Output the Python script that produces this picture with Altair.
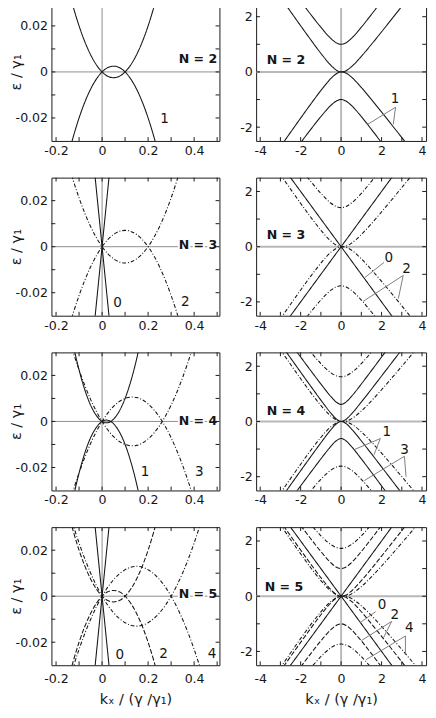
import altair as alt
import pandas as pd

# ================= DATA =================
# ---- left column: low-energy zoom, x = kx/(gamma/gamma1), y = eps/gamma1 ----
KL_LAM1 = [-0.22, -0.2, -0.15, -0.1, -0.05, 0, 0.025, 0.05, 0.075, 0.1, 0.15, 0.2, 0.25, 0.3]
EL_LAM1_A = [0.0704, 0.06, 0.0375, 0.02, 0.0075, 0, -0.0019, -0.0025, -0.0019, 0, 0.0075, 0.02, 0.0375, 0.06]
EL_LAM1_B = [-0.0704, -0.06, -0.0375, -0.02, -0.0075, 0, 0.0019, 0.0025, 0.0019, 0, -0.0075, -0.02, -0.0375, -0.06]

KL_LAM141 = [-0.2, -0.15, -0.1, -0.05, 0, 0.05, 0.1, 0.15, 0.2, 0.25, 0.3, 0.35, 0.4]
EL_LAM141_A = [0.0566, 0.0371, 0.0212, 0.0088, 0, -0.0053, -0.0071, -0.0053, 0, 0.0088, 0.0212, 0.0371, 0.0566]
EL_LAM141_B = [-0.0566, -0.0371, -0.0212, -0.0088, 0, 0.0053, 0.0071, 0.0053, 0, -0.0088, -0.0212, -0.0371, -0.0566]

KL_LAM162 = [-0.2, -0.15, -0.1, -0.05, 0, 0.05, 0.1, 0.131, 0.15, 0.2, 0.25, 0.3, 0.35, 0.4, 0.45]
EL_LAM162_A = [0.0571, 0.0382, 0.0224, 0.0096, 0, -0.0066, -0.0100, -0.0106, -0.0104, -0.0076, -0.0018, 0.0071, 0.0191, 0.0342, 0.0523]
EL_LAM162_B = [-0.0571, -0.0382, -0.0224, -0.0096, 0, 0.0066, 0.0100, 0.0106, 0.0104, 0.0076, 0.0018, -0.0071, -0.0191, -0.0342, -0.0523]

KL_LAM062 = [-0.2, -0.15, -0.1, -0.05, -0.025, 0, 0.019, 0.038, 0.05, 0.1, 0.15, 0.2]
EL_LAM062_A = [0.0771, 0.0457, 0.0224, 0.0071, 0.0026, 0, -0.0006, 0, 0.0010, 0.0100, 0.0271, 0.0524]
EL_LAM062_B = [-0.0771, -0.0457, -0.0224, -0.0071, -0.0026, 0, 0.0006, 0, -0.0010, -0.0100, -0.0271, -0.0524]

KL_LAM173 = [-0.2, -0.15, -0.1, -0.05, 0, 0.05, 0.1, 0.15, 0.2, 0.25, 0.3, 0.35, 0.4, 0.45, 0.5]
EL_LAM173_A = [0.0577, 0.0390, 0.0231, 0.0101, 0, -0.0072, -0.0115, -0.0130, -0.0115, -0.0072, 0, 0.0101, 0.0231, 0.0390, 0.0577]
EL_LAM173_B = [-0.0577, -0.0390, -0.0231, -0.0101, 0, 0.0072, 0.0115, 0.0130, 0.0115, 0.0072, 0, -0.0101, -0.0231, -0.0390, -0.0577]

KL_LIN = [-0.1, 0.1]
EL_LIN_A = [-0.1, 0.1]
EL_LIN_B = [0.1, -0.1]

# ---- right column: wide range ----
KR = [-4, -3.5, -3, -2.5, -2, -1.5, -1, -0.5, -0.25, 0, 0.25, 0.5, 1, 1.5, 2, 2.5, 3, 3.5, 4]
ER_LOW1_C = [3.751, 3.228, 2.706, 2.188, 1.672, 1.164, 0.673, 0.235, 0.073, 0, 0.045, 0.180, 0.563, 0.999, 1.452, 1.913, 2.376, 2.844, 3.311]
ER_LOW1_V = [-3.751, -3.228, -2.706, -2.188, -1.672, -1.164, -0.673, -0.235, -0.073, 0, -0.045, -0.180, -0.563, -0.999, -1.452, -1.913, -2.376, -2.844, -3.311]
ER_LOW141_C = [3.667, 3.137, 2.609, 2.086, 1.570, 1.068, 0.596, 0.198, 0.063, 0, 0.024, 0.120, 0.440, 0.834, 1.258, 1.696, 2.141, 2.591, 3.043]
ER_LOW141_V = [-3.667, -3.137, -2.609, -2.086, -1.570, -1.068, -0.596, -0.198, -0.063, 0, -0.024, -0.120, -0.440, -0.834, -1.258, -1.696, -2.141, -2.591, -3.043]
ER_LOW162_C = [3.672, 3.133, 2.598, 2.069, 1.548, 1.045, 0.577, 0.192, 0.063, 0, 0.013, 0.092, 0.377, 0.745, 1.148, 1.569, 1.998, 2.433, 2.872]
ER_LOW162_V = [-3.672, -3.133, -2.598, -2.069, -1.548, -1.045, -0.577, -0.192, -0.063, 0, -0.013, -0.092, -0.377, -0.745, -1.148, -1.569, -1.998, -2.433, -2.872]
ER_LOW062_C = [3.843, 3.328, 2.812, 2.298, 1.785, 1.275, 0.773, 0.297, 0.098, 0, 0.080, 0.262, 0.703, 1.170, 1.645, 2.123, 2.602, 3.083, 3.563]
ER_LOW062_V = [-3.843, -3.328, -2.812, -2.298, -1.785, -1.275, -0.773, -0.297, -0.098, 0, -0.080, -0.262, -0.703, -1.170, -1.645, -2.123, -2.602, -3.083, -3.563]
ER_LOW173_C = [3.667, 3.125, 2.587, 2.055, 1.534, 1.031, 0.567, 0.189, 0.063, 0, 0.008, 0.079, 0.347, 0.701, 1.094, 1.505, 1.927, 2.355, 2.787]
ER_LOW173_V = [-3.667, -3.125, -2.587, -2.055, -1.534, -1.031, -0.567, -0.189, -0.063, 0, -0.008, -0.079, -0.347, -0.701, -1.094, -1.505, -1.927, -2.355, -2.787]

KS = [-3, -2.5, -2, -1.5, -1, -0.5, -0.25, 0, 0.25, 0.5, 1, 1.5, 2, 2.5, 3]
ES1_C = [3.541, 3.050, 2.562, 2.081, 1.618, 1.207, 1.059, 1.0, 1.059, 1.207, 1.618, 2.081, 2.562, 3.050, 3.541]
ES1_V = [-3.541, -3.050, -2.562, -2.081, -1.618, -1.207, -1.059, -1.0, -1.059, -1.207, -1.618, -2.081, -2.562, -3.050, -3.541]
ES141_C = [3.789, 3.305, 2.828, 2.366, 1.932, 1.573, 1.457, 1.414, 1.457, 1.573, 1.932, 2.366, 2.828, 3.305, 3.789]
ES141_V = [-3.789, -3.305, -2.828, -2.366, -1.932, -1.573, -1.457, -1.414, -1.457, -1.573, -1.932, -2.366, -2.828, -3.305, -3.789]
ES162_C = [3.916, 3.437, 2.966, 2.513, 2.095, 1.760, 1.656, 1.618, 1.656, 1.760, 2.095, 2.513, 2.966, 3.437, 3.916]
ES162_V = [-3.916, -3.437, -2.966, -2.513, -2.095, -1.760, -1.656, -1.618, -1.656, -1.760, -2.095, -2.513, -2.966, -3.437, -3.916]
ES062_C = [3.325, 2.828, 2.333, 1.841, 1.356, 0.897, 0.707, 0.618, 0.707, 0.897, 1.356, 1.841, 2.333, 2.828, 3.325]
ES062_V = [-3.325, -2.828, -2.333, -1.841, -1.356, -0.897, -0.707, -0.618, -0.707, -0.897, -1.356, -1.841, -2.333, -2.828, -3.325]
ES173_C = [3.989, 3.512, 3.045, 2.598, 2.189, 1.866, 1.768, 1.732, 1.768, 1.866, 2.189, 2.598, 3.045, 3.512, 3.989]
ES173_V = [-3.989, -3.512, -3.045, -2.598, -2.189, -1.866, -1.768, -1.732, -1.768, -1.866, -2.189, -2.598, -3.045, -3.512, -3.989]

KR_LIN = [-4, 4]
ER_LIN_A = [-4, 4]
ER_LIN_B = [4, -4]

# ---- axis ranges, ticks and tick labels ----
XDOM_L = [-0.22, 0.51]
XDOM_R = [-4.2, 4.2]
YDOM_L = [-0.03, 0.03]
YDOM_R = [-2.5, 2.5]
XLAB_L = [-0.2, 0, 0.2, 0.4]
YLAB_L = [-0.02, 0, 0.02]
XLAB_R = [-4, -2, 0, 2, 4]
YLAB_R = [-2, 0, 2]
XT_L = [-0.2, -0.1, 0, 0.1, 0.2, 0.3, 0.4, 0.5]
YT_L = [-0.02, -0.01, 0, 0.01, 0.02]
XT_R = [-4, -3, -2, -1, 0, 1, 2, 3, 4]
YT_R = [-2, -1, 0, 1, 2]

# ---- panel labels ----
N_TEXT = ["N = 2", "N = 3", "N = 4", "N = 5"]
N_LEFT_K = [0.5, 0.5, 0.5, 0.5]
N_LEFT_E = [0.0055, 0.0005, 0.0, 0.001]
N_RIGHT_K = [-3.68, -3.68, -3.68, -3.78]
N_RIGHT_E = [0.43, 0.42, 0.37, 0.34]

# curve index labels, left panels
LAB_L2 = (["1"], [0.271], [-0.0207])
LAB_L3 = (["0", "2"], [0.067, 0.362], [-0.0246, -0.0243])
LAB_L4 = (["1", "3"], [0.187, 0.422], [-0.0221, -0.0221])
LAB_L5 = (["0", "2", "4"], [0.077, 0.267, 0.478], [-0.0257, -0.0252, -0.0252])
# curve index labels, right panels
LAB_R2 = (["1"], [2.67], [-0.98])
LAB_R3 = (["0", "2"], [2.36, 3.23], [-0.40, -0.81])
LAB_R4 = (["1", "3"], [2.26, 3.13], [-0.39, -1.03])
LAB_R5 = (["0", "2", "4"], [2.02, 2.66, 3.37], [-0.33, -0.68, -1.15])
# pointer segments (k1, e1, k2, e2), right panels
SEG_R2 = [(2.69, -1.28, 1.31, -1.90), (2.69, -1.28, 2.58, -1.90)]
SEG_R3 = [(2.12, -0.57, 1.17, -1.12), (3.07, -1.04, 1.09, -1.98), (3.07, -1.04, 2.83, -1.88)]
SEG_R4 = [(1.94, -0.62, 0.68, -1.01), (1.94, -0.62, 1.63, -1.20), (3.13, -1.26, 1.15, -2.14), (3.13, -1.26, 3.21, -2.00)]
SEG_R5 = [(1.71, -0.56, 0.95, -0.95), (2.50, -0.91, 1.00, -1.61), (2.50, -0.91, 2.10, -1.50),
          (3.18, -1.44, 1.23, -2.30), (3.18, -1.44, 3.18, -2.08)]

# ================= STYLE =================
W_L, W_R, H = 174, 176, 143
INK = "#161616"
FONT = "DejaVu Sans"
DASH = alt.Scale(domain=["solid", "dash", "dashdot"], range=[[1, 0], [5, 2], [4, 2, 1, 2]])


def curves_df(curves):
    rows = []
    for i, (ks, es, st) in enumerate(curves):
        for k, e in zip(ks, es):
            rows.append({"k": k, "e": e, "c": i, "s": st})
    return pd.DataFrame(rows)


def make_panel(side, curves, row, labels, segs, bottom):
    left = side == "L"
    h = H
    xs = alt.Scale(domain=XDOM_L if left else XDOM_R, nice=False, zero=False)
    ys = alt.Scale(domain=YDOM_L if left else YDOM_R, nice=False, zero=False)
    w = W_L if left else W_R
    if left:
        xexpr = "datum.value == 0 ? '0' : (datum.value < 0 ? '-' : '') + format(abs(datum.value), '.1f')"
        yexpr = "datum.value == 0 ? '0' : (datum.value < 0 ? '-' : '') + format(abs(datum.value), '.2f')"
    else:
        xexpr = "(datum.value < 0 ? '-' : '') + format(abs(datum.value), 'd')"
        yexpr = xexpr
    xkw = dict(values=XLAB_L if left else XLAB_R, labelExpr=xexpr)
    if bottom:
        xaxis = alt.Axis(title="kₓ / (γ /γ₁)", titlePadding=7, labelPadding=8, **xkw)
    else:
        xaxis = alt.Axis(title=None, **xkw)
    ykw = dict(values=YLAB_L if left else YLAB_R, labelExpr=yexpr)
    if left:
        yaxis = alt.Axis(title="ε / γ₁", titleX=-29, titleY=h / 2, **ykw)
    else:
        yaxis = alt.Axis(title=None, **ykw)

    def X(f):
        return alt.X(f, scale=xs, axis=xaxis)

    def Y(f):
        return alt.Y(f, scale=ys, axis=yaxis)

    zc, zw = ("#8a8a8a", 1) if left else ("#b8b8b8", 2)
    zero = alt.Chart(pd.DataFrame({"v": [0]}))
    zx = zero.mark_rule(color=zc, strokeWidth=zw).encode(x=X("v:Q"))
    zy = zero.mark_rule(color=zc, strokeWidth=zw).encode(y=Y("v:Q"))

    lines = alt.Chart(curves_df(curves)).mark_line(
        clip=True, color=INK, strokeWidth=1.1, interpolate="monotone"
    ).encode(
        x=X("k:Q"),
        y=Y("e:Q"),
        detail="c:N",
        strokeDash=alt.StrokeDash("s:N", scale=DASH, legend=None),
    )

    layers = [zx, zy, lines]

    if segs:
        sdf = pd.DataFrame(segs, columns=["k1", "e1", "k2", "e2"])
        layers.append(
            alt.Chart(sdf).mark_rule(color="#7a7a7a", strokeWidth=1).encode(
                x=X("k1:Q"), y=Y("e1:Q"), x2="k2:Q", y2="e2:Q",
            )
        )

    lt, lk, le = labels
    layers.append(
        alt.Chart(pd.DataFrame({"t": lt, "k": lk, "e": le})).mark_text(
            font=FONT, fontSize=14, color=INK, align="center", baseline="middle"
        ).encode(x=X("k:Q"), y=Y("e:Q"), text="t:N")
    )

    ndf = pd.DataFrame({
        "t": [N_TEXT[row]],
        "k": [N_LEFT_K[row] if left else N_RIGHT_K[row]],
        "e": [N_LEFT_E[row] if left else N_RIGHT_E[row]],
    })
    ntext = dict(font=FONT, fontSize=13, fontWeight="bold",
                 align="right" if left else "left", baseline="middle")
    nch = alt.Chart(ndf)
    layers.append(
        nch.mark_text(color="white", stroke="white", strokeWidth=4, **ntext).encode(
            x=X("k:Q"), y=Y("e:Q"), text="t:N")
    )
    layers.append(
        nch.mark_text(color=INK, **ntext).encode(x=X("k:Q"), y=Y("e:Q"), text="t:N")
    )

    # inward ticks on all four sides
    dx = alt.Chart(pd.DataFrame({"v": XT_L if left else XT_R}))
    dy = alt.Chart(pd.DataFrame({"v": YT_L if left else YT_R}))
    tk = dict(color=INK, strokeWidth=1)
    layers += [
        dx.mark_rule(**tk).encode(x=X("v:Q"), y=alt.value(h), y2=alt.value(h - 4)),
        dx.mark_rule(**tk).encode(x=X("v:Q"), y=alt.value(0), y2=alt.value(4)),
        dy.mark_rule(**tk).encode(y=Y("v:Q"), x=alt.value(0), x2=alt.value(4)),
        dy.mark_rule(**tk).encode(y=Y("v:Q"), x=alt.value(w), x2=alt.value(w - 4)),
    ]
    return alt.layer(*layers).properties(width=w, height=h)


S, D, DD = "solid", "dash", "dashdot"

left_panels = [
    [(KL_LAM1, EL_LAM1_A, S), (KL_LAM1, EL_LAM1_B, S)],
    [(KL_LIN, EL_LIN_A, S), (KL_LIN, EL_LIN_B, S), (KL_LAM141, EL_LAM141_A, DD), (KL_LAM141, EL_LAM141_B, DD)],
    [(KL_LAM062, EL_LAM062_A, S), (KL_LAM062, EL_LAM062_B, S), (KL_LAM162, EL_LAM162_A, DD), (KL_LAM162, EL_LAM162_B, DD)],
    [(KL_LIN, EL_LIN_A, S), (KL_LIN, EL_LIN_B, S), (KL_LAM1, EL_LAM1_A, D), (KL_LAM1, EL_LAM1_B, D),
     (KL_LAM173, EL_LAM173_A, DD), (KL_LAM173, EL_LAM173_B, DD)],
]
right_panels = [
    [(KR, ER_LOW1_C, S), (KR, ER_LOW1_V, S), (KS, ES1_C, S), (KS, ES1_V, S)],
    [(KR_LIN, ER_LIN_A, S), (KR_LIN, ER_LIN_B, S), (KR, ER_LOW141_C, DD), (KR, ER_LOW141_V, DD),
     (KS, ES141_C, DD), (KS, ES141_V, DD)],
    [(KR, ER_LOW062_C, S), (KR, ER_LOW062_V, S), (KS, ES062_C, S), (KS, ES062_V, S),
     (KR, ER_LOW162_C, DD), (KR, ER_LOW162_V, DD), (KS, ES162_C, DD), (KS, ES162_V, DD)],
    [(KR_LIN, ER_LIN_A, S), (KR_LIN, ER_LIN_B, S), (KR, ER_LOW1_C, D), (KR, ER_LOW1_V, D),
     (KS, ES1_C, D), (KS, ES1_V, D), (KR, ER_LOW173_C, DD), (KR, ER_LOW173_V, DD),
     (KS, ES173_C, DD), (KS, ES173_V, DD)],
]
left_labels = [LAB_L2, LAB_L3, LAB_L4, LAB_L5]
right_labels = [LAB_R2, LAB_R3, LAB_R4, LAB_R5]
right_segs = [SEG_R2, SEG_R3, SEG_R4, SEG_R5]

rows = []
for r in range(4):
    bottom = r == 3
    lp = make_panel("L", left_panels[r], r, left_labels[r], None, bottom)
    rp = make_panel("R", right_panels[r], r, right_labels[r], right_segs[r], bottom)
    rows.append(alt.hconcat(lp, rp, spacing=19))

chart = alt.vconcat(*rows, spacing=18).properties(
    padding={"left": 0, "top": -20, "right": 0, "bottom": 0}
).configure_view(
    stroke=INK, strokeWidth=1
).configure_axis(
    domain=False, ticks=False, grid=False,
    labelFont=FONT, labelFontSize=13, labelColor=INK, labelPadding=4,
    titleFont=FONT, titleFontSize=15, titleFontWeight="normal", titleColor=INK,
)

chart.save("out.html", embed_options={"renderer": "svg", "actions": False})
